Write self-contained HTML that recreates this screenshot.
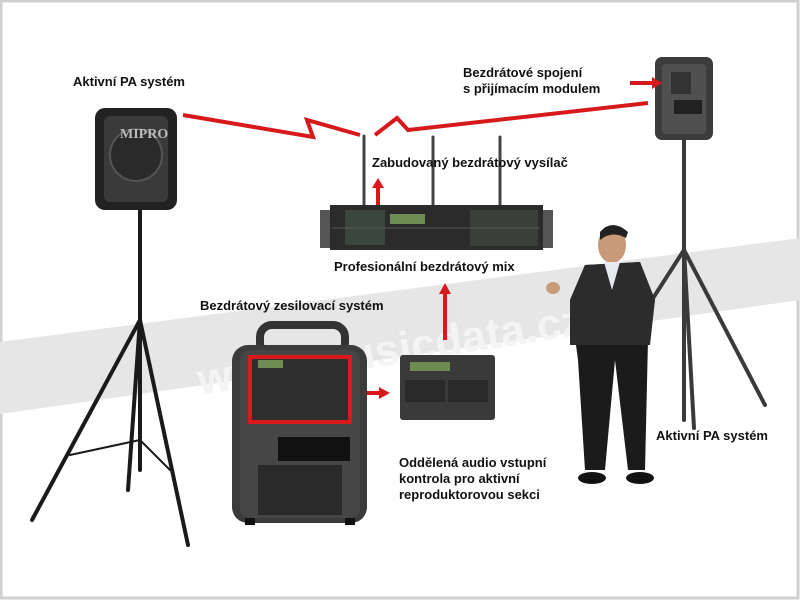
<!DOCTYPE html>
<html><head><meta charset="utf-8"><style>
html,body{margin:0;padding:0;background:#fff}
svg{display:block}
text{font-family:"Liberation Sans",sans-serif;font-weight:bold;font-size:13px;fill:#111}
</style></head><body>
<svg width="800" height="600" viewBox="0 0 800 600">
<rect x="0" y="0" width="800" height="600" fill="#fff"/>
<rect x="1" y="1" width="797" height="597" fill="none" stroke="#d0d0d0" stroke-width="3"/>
<!-- watermark band -->
<polygon points="0,342 800,238 800,300 0,414" fill="#e6e6e6"/>
<text x="200" y="395" transform="rotate(-9 200 395)" style="font-size:44px;fill:#f4f4f4">www.musicdata.cz</text>

<!-- left tripod -->
<g stroke="#1a1a1a" stroke-width="4" fill="none" stroke-linecap="round">
<line x1="140" y1="205" x2="140" y2="470"/>
<line x1="140" y1="320" x2="32" y2="520"/>
<line x1="140" y1="320" x2="188" y2="545"/>
<line x1="140" y1="320" x2="128" y2="490"/>
<line x1="140" y1="440" x2="70" y2="455" stroke-width="2"/>
<line x1="140" y1="440" x2="170" y2="470" stroke-width="2"/>
</g>
<!-- left speaker -->
<rect x="95" y="108" width="82" height="102" rx="10" fill="#222"/>
<rect x="104" y="116" width="64" height="86" rx="6" fill="#3a3a3a"/>
<circle cx="136" cy="155" r="26" fill="#2a2a2a" stroke="#555" stroke-width="2"/>
<text x="120" y="138" style="font-size:14px;fill:#bbb;font-family:'Liberation Serif',serif">MIPRO</text>

<!-- right tripod -->
<g stroke="#3a3a3a" stroke-width="4" fill="none" stroke-linecap="round">
<line x1="684" y1="135" x2="684" y2="420"/>
<line x1="684" y1="250" x2="610" y2="365"/>
<line x1="684" y1="250" x2="765" y2="405"/>
<line x1="684" y1="250" x2="694" y2="428"/>
</g>
<!-- right speaker -->
<rect x="655" y="57" width="58" height="83" rx="7" fill="#3c3c3c"/>
<rect x="662" y="64" width="44" height="70" rx="4" fill="#505050"/>
<rect x="671" y="72" width="20" height="22" fill="#333"/>
<rect x="674" y="100" width="28" height="14" fill="#222"/>

<!-- red wireless lines -->
<g stroke="#d7191c" stroke-width="4" fill="none" stroke-linejoin="miter">
<polyline points="183,115 313,137 307,120 360,135"/>
<polyline points="375,135 397,118 408,130 648,103"/>
<line x1="630" y1="83" x2="656" y2="83"/>
<line x1="378" y1="207" x2="378" y2="185"/>
<line x1="445" y1="340" x2="445" y2="292"/>
<line x1="365" y1="393" x2="382" y2="393"/>
</g>
<g fill="#d7191c">
<polygon points="662,83 652,77 652,89"/>
<polygon points="378,178 372,188 384,188"/>
<polygon points="445,283 439,294 451,294"/>
<polygon points="390,393 379,387 379,399"/>
</g>

<!-- antennas -->
<g stroke="#444" stroke-width="3" stroke-linecap="round">
<line x1="364" y1="136" x2="364" y2="207"/>
<line x1="433" y1="137" x2="433" y2="207"/>
<line x1="500" y1="137" x2="500" y2="207"/>
</g>
<!-- mixer -->
<rect x="330" y="205" width="213" height="45" fill="#2b2b2b"/>
<rect x="320" y="210" width="10" height="38" fill="#555"/>
<rect x="543" y="210" width="10" height="38" fill="#555"/>
<rect x="345" y="210" width="40" height="35" fill="#3b463f"/>
<rect x="390" y="214" width="35" height="10" fill="#6e8c52"/>
<rect x="470" y="210" width="68" height="36" fill="#3a3f3a"/>
<line x1="332" y1="228" x2="540" y2="228" stroke="#555" stroke-width="1"/>

<!-- amplifier -->
<rect x="260" y="325" width="85" height="30" rx="12" fill="none" stroke="#333" stroke-width="8"/>
<rect x="232" y="345" width="135" height="178" rx="16" fill="#3b3b3b"/>
<rect x="240" y="350" width="120" height="168" rx="10" fill="#464646"/>
<rect x="250" y="357" width="100" height="65" fill="#2e2e2e" stroke="#d7191c" stroke-width="4"/>
<rect x="258" y="360" width="25" height="8" fill="#6e8c52"/>
<rect x="278" y="437" width="72" height="24" fill="#111"/>
<rect x="258" y="465" width="84" height="50" fill="#2a2a2a"/>
<rect x="245" y="518" width="10" height="7" fill="#111"/><rect x="345" y="518" width="10" height="7" fill="#111"/>

<!-- small unit -->
<rect x="400" y="355" width="95" height="65" rx="3" fill="#3a3a3a"/>
<rect x="410" y="362" width="40" height="9" fill="#6e8c52"/>
<rect x="405" y="380" width="40" height="22" fill="#2a2a2a"/>
<rect x="448" y="380" width="40" height="22" fill="#2a2a2a"/>

<!-- man -->
<ellipse cx="612" cy="245" rx="14" ry="18" fill="#c89a7a"/>
<path d="M600 232 Q612 218 628 232 L626 238 Q612 230 600 240Z" fill="#222"/>
<path d="M585 265 L640 262 L655 300 L648 340 L645 470 L628 470 L615 360 L605 470 L585 470 L578 360 L570 300Z" fill="#1b1b1b"/>
<path d="M585 265 L640 262 L655 300 L650 345 L570 345 L570 300Z" fill="#2c2c2c"/>
<polygon points="604,262 620,262 612,290" fill="#e8e8f0"/>
<ellipse cx="592" cy="478" rx="14" ry="6" fill="#111"/>
<ellipse cx="640" cy="478" rx="14" ry="6" fill="#111"/>
<ellipse cx="553" cy="288" rx="7" ry="6" fill="#c89a7a"/>

<!-- labels -->
<text x="73" y="86">Aktivní PA systém</text>
<text x="463" y="77">Bezdrátové spojení</text>
<text x="463" y="93">s přijímacím modulem</text>
<text x="372" y="167">Zabudovaný bezdrátový vysílač</text>
<text x="334" y="271">Profesionální bezdrátový mix</text>
<text x="200" y="310">Bezdrátový zesilovací systém</text>
<text x="656" y="440">Aktivní PA systém</text>
<text x="399" y="467">Oddělená audio vstupní</text>
<text x="399" y="483">kontrola pro aktivní</text>
<text x="399" y="499">reproduktorovou sekci</text>
</svg>
</body></html>
